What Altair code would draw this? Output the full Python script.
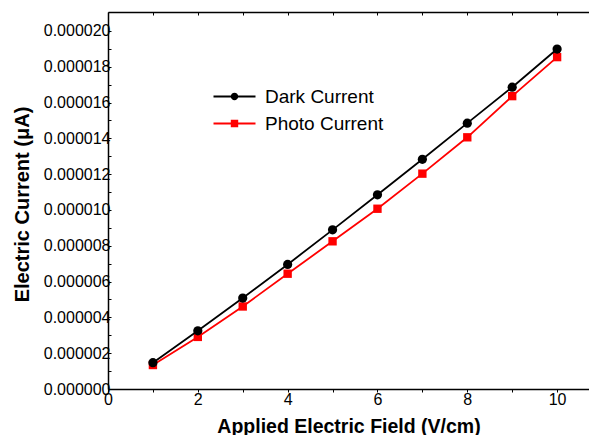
import altair as alt
import pandas as pd

field = [1, 2, 3, 4, 5, 6, 7, 8, 9, 10]
dark_current = [1.47e-6, 3.25e-6, 5.08e-6, 6.96e-6, 8.89e-6, 10.85e-6, 12.83e-6, 14.85e-6, 16.86e-6, 18.99e-6]
photo_current = [1.34e-6, 2.91e-6, 4.61e-6, 6.44e-6, 8.25e-6, 10.07e-6, 12.03e-6, 14.06e-6, 16.36e-6, 18.54e-6]
series_names = ["Dark Current", "Photo Current"]
series_colors = ["black", "red"]
x_ticks = list(range(0, 11))
y_ticks = [i * 1e-6 for i in range(0, 21)]

df = pd.DataFrame({
    "field": field + field,
    "current": dark_current + photo_current,
    "series": [series_names[0]] * len(field) + [series_names[1]] * len(field),
})

FONT = "Liberation Sans"
xscale = alt.Scale(domain=[0, 10.71], nice=False, zero=False)
yscale = alt.Scale(domain=[0, 21.06e-6], nice=False, zero=False)

# legend glyphs: line segment with a marker in the middle (unit = 7px at symbolSize 196)
seg = "M-3,-0.14H-0.3V0.14H-3Z M0.3,-0.14H3V0.14H0.3Z "
circle_path = seg + "M0.53,0A0.53,0.53,0,1,1,-0.53,0A0.53,0.53,0,1,1,0.53,0Z"
square_path = seg + "M-0.53,-0.53H0.53V0.53H-0.53Z"

legend = alt.Legend(
    title=None, orient="none", legendX=117, legendY=75, padding=0,
    labelFont=FONT, labelFontSize=19, labelColor="black",
    symbolSize=196, symbolStrokeWidth=0, labelOffset=21, rowPadding=7,
    symbolOpacity=1,
)
color_scale = alt.Scale(domain=series_names, range=series_colors)

x_axis = alt.Axis(
    values=x_ticks, format="d",
    labelExpr="datum.value % 2 == 0 ? datum.label : ''",
    title="Applied Electric Field (V/cm)", titleFont=FONT, titleFontSize=19.5, titleFontWeight="bold",
    titleColor="black", titleY=43, titleBaseline="alphabetic",
    labelFont=FONT, labelFontSize=16, labelColor="black", labelPadding=-1, labelFlush=False,
    tickSize=3, tickColor="black", tickWidth=1, domainColor="black", domainWidth=1.5, grid=False,
)
y_axis = alt.Axis(
    values=y_ticks,
    labelExpr="round(datum.value * 1e6) % 2 == 0 ? format(datum.value, '.6f') : ''",
    title="Electric Current (μA)", titleFont=FONT, titleFontSize=20, titleFontWeight="bold",
    titleColor="black", titleX=-80, titleY=192, titleBaseline="alphabetic",
    labelFont=FONT, labelFontSize=16, labelColor="black", labelPadding=1, labelFlush=False,
    tickSize=alt.ExprRef(expr="-3"), tickColor="black", tickWidth=1,
    domainColor="black", domainWidth=1.5, grid=False,
)
top_axis = alt.Axis(
    orient="top", values=x_ticks, labels=False, title=None,
    tickSize=alt.ExprRef(expr="-3"), tickColor="black", tickWidth=1,
    domainColor="black", domainWidth=1.5, grid=False,
)

base = alt.Chart(df)

def series_layer(name, col, shape, size, with_axes):
    sub = base.transform_filter(alt.datum.series == name)
    xa = x_axis if with_axes else None
    ya = y_axis if with_axes else None
    line = sub.mark_line(strokeWidth=1.8, color=col).encode(
        x=alt.X("field:Q", scale=xscale, axis=xa),
        y=alt.Y("current:Q", scale=yscale, axis=ya),
    )
    pts = sub.mark_point(filled=True, shape=shape, size=size, opacity=1, color=col).encode(
        x=alt.X("field:Q", scale=xscale, axis=None),
        y=alt.Y("current:Q", scale=yscale, axis=None),
    )
    return [line, pts]

top = base.mark_point(opacity=0).encode(
    x=alt.X("field:Q", scale=xscale, axis=top_axis),
    y=alt.Y("current:Q", scale=yscale, axis=None),
)

legend_layer = base.transform_filter("false").mark_point(filled=True, opacity=1).encode(
    x=alt.X("field:Q", scale=xscale, axis=None),
    y=alt.Y("current:Q", scale=yscale, axis=None),
    color=alt.Color("series:N", scale=color_scale, legend=legend),
    shape=alt.Shape("series:N", scale=alt.Scale(domain=series_names, range=[circle_path, square_path]), legend=legend),
)

layers = (series_layer(series_names[1], series_colors[1], "square", 70, True)
          + series_layer(series_names[0], series_colors[0], "circle", 85, False)
          + [top, legend_layer])

chart = alt.layer(*layers).resolve_axis(x="independent", y="independent").properties(
    width=481, height=377,
    padding={"left": 100, "top": 4, "right": 0, "bottom": 47},
    autosize=alt.AutoSizeParams(type="none"),
    background="white",
).configure_view(stroke=None)

chart.save("out.html", embed_options={"renderer": "svg", "actions": False})
